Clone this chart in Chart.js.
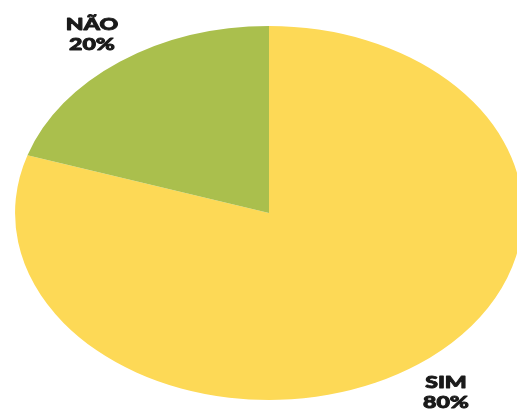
<!DOCTYPE html>
<html>

<head>
  <meta charset="utf-8" />
  <style>
    body { margin: 0; background: #fff; }
    canvas { display: block; }
  </style>
</head>

<script src="https://cdn.jsdelivr.net/npm/chart.js"></script>

<body>
  <canvas id="pieChart" width="517" height="411"></canvas>

  <script>
    // answers and their shares (%)
    const labels = ['SIM', 'NÃO'];
    const values = [80, 20];
    const colors = ['#FDD956', '#AABF4D'];

    // the pie is drawn wider than it is tall
    const stretch = 1.358;

    // where each answer's label sits (canvas px, centre of the text block)
    const labelPos = [
      { x: 446, y: 380 },
      { x: 92, y: 22 }
    ];

    const stretchPie = {
      id: 'stretchPie',
      beforeDatasetsDraw(chart) {
        const ctx = chart.ctx;
        const a = chart.chartArea;
        const cx = (a.left + a.right) / 2;
        ctx.save();
        ctx.translate(cx, 0);
        ctx.scale(stretch, 1);
        ctx.translate(-cx, 0);
      },
      afterDatasetsDraw(chart) {
        chart.ctx.restore();
      }
    };

    const sliceLabels = {
      id: 'sliceLabels',
      afterDraw(chart) {
        const ctx = chart.ctx;
        ctx.save();
        ctx.fillStyle = '#1a1a1a';
        ctx.strokeStyle = '#1a1a1a';
        ctx.lineWidth = 0.9;
        ctx.lineJoin = 'round';
        ctx.font = '900 17px Lato';
        ctx.textAlign = 'center';
        ctx.textBaseline = 'top';
        labels.forEach(function (name, i) {
          const p = labelPos[i];
          const lines = [name, values[i] + '%'];
          ctx.save();
          ctx.translate(p.x, p.y);
          ctx.scale(stretch, 1);
          lines.forEach(function (t, j) {
            ctx.fillText(t, 0, -6 + j * 20);
            ctx.strokeText(t, 0, -6 + j * 20);
          });
          ctx.restore();
        });
        ctx.restore();
      }
    };

    const ctx = document.getElementById('pieChart');
    new Chart(ctx, {
      type: 'pie',
      data: {
        labels: labels,
        datasets: [{
          data: values,
          backgroundColor: colors,
          borderWidth: 0,
          hoverOffset: 0
        }]
      },
      options: {
        responsive: false,
        animation: false,
        devicePixelRatio: 1,
        layout: {
          padding: { left: 82, right: 61, top: 26, bottom: 11 }
        },
        plugins: {
          legend: { display: false },
          tooltip: { enabled: false }
        }
      },
      plugins: [stretchPie, sliceLabels]
    });
  </script>

</body>

</html>
